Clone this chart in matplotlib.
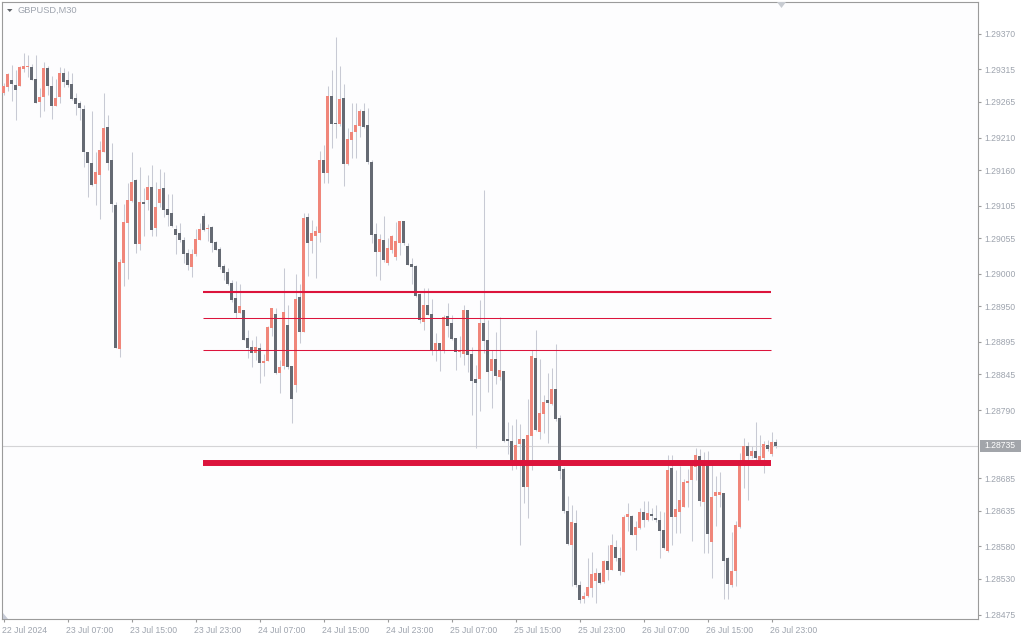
import matplotlib
matplotlib.use("Agg")
import matplotlib.pyplot as plt
import matplotlib.patches as mpatches
import matplotlib.transforms as mtransforms
import numpy as np

# ---------------- data (GBPUSD, M30) ----------------
symbol = "GBPUSD,M30"

opens = [
    1.29279, 1.29288, 1.29299, 1.29291, 1.29290, 1.29316, 1.29319, 1.29319, 1.29300, 1.29265,
    1.29272, 1.29317, 1.29290, 1.29258, 1.29272, 1.29310, 1.29299, 1.29293, 1.29271, 1.29263,
    1.29254, 1.29187, 1.29171, 1.29138, 1.29153, 1.29188, 1.29227, 1.29175, 1.29106, 1.28884,
    1.29017, 1.29079, 1.29112, 1.29145, 1.29046, 1.29111, 1.29114, 1.29134, 1.29070, 1.29109,
    1.29133, 1.29100, 1.29094, 1.29069, 1.29063, 1.29052, 1.29032, 1.29011, 1.29031, 1.29052,
    1.29089, 1.29069, 1.29072, 1.29049, 1.29038, 1.29012, 1.29003, 1.28986, 1.28963, 1.28940,
    1.28944, 1.28901, 1.28887, 1.28878, 1.28886, 1.28863, 1.28866, 1.28917, 1.28938, 1.28847,
    1.28858, 1.28921, 1.28858, 1.28829, 1.28964, 1.28911, 1.29088, 1.29050, 1.29059, 1.29063,
    1.29175, 1.29155, 1.29274, 1.29232, 1.29231, 1.29271, 1.29170, 1.29207, 1.29219, 1.29228,
    1.29251, 1.29229, 1.29172, 1.29061, 1.29033, 1.29052, 1.29017, 1.29036, 1.29026, 1.29048,
    1.29081, 1.29043, 1.29015, 1.29012, 1.28969, 1.28926, 1.28952, 1.28938, 1.28883, 1.28893,
    1.28882, 1.28935, 1.28924, 1.28901, 1.28879, 1.28877, 1.28944, 1.28877, 1.28838, 1.28838,
    1.28924, 1.28898, 1.28850, 1.28869, 1.28841, 1.28850, 1.28745, 1.28742, 1.28712, 1.28738,
    1.28745, 1.28672, 1.28750, 1.28870, 1.28756, 1.28784, 1.28806, 1.28799, 1.28822, 1.28778,
    1.28699, 1.28634, 1.28582, 1.28616, 1.28520, 1.28499, 1.28504, 1.28516, 1.28527, 1.28539,
    1.28525, 1.28558, 1.28544, 1.28579, 1.28562, 1.28541, 1.28625, 1.28627, 1.28598, 1.28608,
    1.28633, 1.28621, 1.28630, 1.28624, 1.28621, 1.28605, 1.28573, 1.28701, 1.28625, 1.28633,
    1.28641, 1.28678, 1.28682, 1.28702, 1.28719, 1.28648, 1.28710, 1.28587, 1.28658, 1.28659,
    1.28662, 1.28562, 1.28520, 1.28542, 1.28610, 1.28709, 1.28735, 1.28719, 1.28727, 1.28713,
    1.28716, 1.28736, 1.28722, 1.28741,
]

highs = [
    1.29294, 1.29310, 1.29322, 1.29314, 1.29320, 1.29340, 1.29337, 1.29323, 1.29337, 1.29286,
    1.29326, 1.29320, 1.29305, 1.29301, 1.29318, 1.29317, 1.29312, 1.29310, 1.29278, 1.29266,
    1.29260, 1.29187, 1.29251, 1.29188, 1.29204, 1.29279, 1.29245, 1.29202, 1.29111, 1.29023,
    1.29108, 1.29140, 1.29188, 1.29146, 1.29165, 1.29132, 1.29152, 1.29168, 1.29142, 1.29162,
    1.29157, 1.29123, 1.29123, 1.29075, 1.29079, 1.29056, 1.29038, 1.29039, 1.29069, 1.29078,
    1.29093, 1.29077, 1.29073, 1.29050, 1.29042, 1.29015, 1.29009, 1.28991, 1.28989, 1.28984,
    1.28944, 1.28913, 1.28898, 1.28904, 1.28893, 1.28877, 1.28919, 1.28948, 1.28948, 1.28867,
    1.29009, 1.28952, 1.28858, 1.29000, 1.28984, 1.29093, 1.29093, 1.29083, 1.29073, 1.29189,
    1.29199, 1.29289, 1.29314, 1.29365, 1.29320, 1.29293, 1.29225, 1.29264, 1.29264, 1.29254,
    1.29263, 1.29256, 1.29175, 1.29079, 1.29061, 1.29089, 1.29055, 1.29060, 1.29080, 1.29082,
    1.29082, 1.29047, 1.29024, 1.29014, 1.28970, 1.28978, 1.28978, 1.28961, 1.28909, 1.28894,
    1.28936, 1.28955, 1.28936, 1.28901, 1.28904, 1.28952, 1.28945, 1.28888, 1.28860, 1.28960,
    1.29129, 1.28929, 1.28883, 1.28910, 1.28934, 1.28851, 1.28772, 1.28767, 1.28776, 1.28769,
    1.28746, 1.28807, 1.28883, 1.28913, 1.28869, 1.28813, 1.28847, 1.28855, 1.28892, 1.28782,
    1.28703, 1.28657, 1.28644, 1.28636, 1.28527, 1.28510, 1.28562, 1.28571, 1.28547, 1.28541,
    1.28559, 1.28582, 1.28599, 1.28590, 1.28579, 1.28628, 1.28647, 1.28628, 1.28619, 1.28639,
    1.28650, 1.28650, 1.28639, 1.28644, 1.28635, 1.28633, 1.28721, 1.28721, 1.28698, 1.28704,
    1.28684, 1.28699, 1.28710, 1.28732, 1.28730, 1.28725, 1.28727, 1.28708, 1.28688, 1.28695,
    1.28663, 1.28564, 1.28602, 1.28619, 1.28724, 1.28747, 1.28741, 1.28735, 1.28772, 1.28752,
    1.28742, 1.28744, 1.28756, 1.28745,
]

lows = [
    1.29276, 1.29281, 1.29266, 1.29237, 1.29290, 1.29311, 1.29303, 1.29298, 1.29263, 1.29241,
    1.29251, 1.29276, 1.29238, 1.29258, 1.29264, 1.29288, 1.29288, 1.29268, 1.29244, 1.29237,
    1.29164, 1.29118, 1.29136, 1.29106, 1.29084, 1.29187, 1.29160, 1.29096, 1.28885, 1.28872,
    1.28982, 1.28992, 1.29111, 1.29032, 1.29036, 1.29059, 1.29098, 1.29058, 1.29059, 1.29103,
    1.29087, 1.29074, 1.29072, 1.29031, 1.29049, 1.29017, 1.29006, 1.28995, 1.29028, 1.29052,
    1.29066, 1.29050, 1.29033, 1.29036, 1.29008, 1.28991, 1.28983, 1.28956, 1.28932, 1.28939,
    1.28898, 1.28870, 1.28856, 1.28867, 1.28832, 1.28843, 1.28865, 1.28904, 1.28846, 1.28816,
    1.28853, 1.28853, 1.28770, 1.28818, 1.28893, 1.28911, 1.28997, 1.29032, 1.28993, 1.29049,
    1.29140, 1.29140, 1.29194, 1.29209, 1.29228, 1.29136, 1.29167, 1.29179, 1.29179, 1.29211,
    1.29225, 1.29170, 1.29048, 1.28997, 1.28991, 1.29019, 1.29013, 1.29032, 1.29021, 1.29029,
    1.29044, 1.29013, 1.28984, 1.28965, 1.28924, 1.28913, 1.28936, 1.28875, 1.28866, 1.28850,
    1.28878, 1.28903, 1.28898, 1.28852, 1.28872, 1.28860, 1.28849, 1.28782, 1.28732, 1.28789,
    1.28878, 1.28818, 1.28793, 1.28830, 1.28836, 1.28741, 1.28722, 1.28698, 1.28700, 1.28582,
    1.28647, 1.28624, 1.28698, 1.28758, 1.28745, 1.28755, 1.28739, 1.28798, 1.28773, 1.28684,
    1.28632, 1.28582, 1.28519, 1.28517, 1.28493, 1.28493, 1.28502, 1.28502, 1.28493, 1.28522,
    1.28523, 1.28528, 1.28544, 1.28558, 1.28536, 1.28540, 1.28604, 1.28597, 1.28574, 1.28607,
    1.28610, 1.28619, 1.28621, 1.28618, 1.28562, 1.28576, 1.28572, 1.28582, 1.28600, 1.28601,
    1.28640, 1.28640, 1.28588, 1.28682, 1.28642, 1.28570, 1.28570, 1.28531, 1.28611, 1.28640,
    1.28499, 1.28499, 1.28518, 1.28519, 1.28609, 1.28670, 1.28651, 1.28716, 1.28712, 1.28708,
    1.28693, 1.28727, 1.28719, 1.28732,
]

closes = [
    1.29289, 1.29308, 1.29293, 1.29284, 1.29319, 1.29320, 1.29320, 1.29299, 1.29264, 1.29273,
    1.29317, 1.29290, 1.29258, 1.29271, 1.29310, 1.29296, 1.29291, 1.29270, 1.29262, 1.29256,
    1.29188, 1.29171, 1.29137, 1.29157, 1.29191, 1.29225, 1.29171, 1.29107, 1.28886, 1.29019,
    1.29080, 1.29114, 1.29142, 1.29046, 1.29111, 1.29107, 1.29134, 1.29068, 1.29103, 1.29131,
    1.29099, 1.29091, 1.29073, 1.29060, 1.29052, 1.29031, 1.29013, 1.29031, 1.29054, 1.29069,
    1.29068, 1.29071, 1.29048, 1.29037, 1.29010, 1.29002, 1.28985, 1.28960, 1.28940, 1.28950,
    1.28898, 1.28886, 1.28878, 1.28887, 1.28863, 1.28866, 1.28918, 1.28947, 1.28847, 1.28856,
    1.28941, 1.28857, 1.28807, 1.28961, 1.28911, 1.29086, 1.29048, 1.29063, 1.29066, 1.29175,
    1.29155, 1.29274, 1.29231, 1.29231, 1.29269, 1.29170, 1.29208, 1.29219, 1.29229, 1.29251,
    1.29227, 1.29172, 1.29060, 1.29034, 1.29054, 1.29022, 1.29040, 1.29058, 1.29051, 1.29081,
    1.29048, 1.29014, 1.29011, 1.28966, 1.28929, 1.28952, 1.28937, 1.28883, 1.28893, 1.28882,
    1.28934, 1.28920, 1.28900, 1.28880, 1.28879, 1.28944, 1.28875, 1.28835, 1.28832, 1.28924,
    1.28896, 1.28849, 1.28869, 1.28843, 1.28852, 1.28742, 1.28742, 1.28712, 1.28736, 1.28745,
    1.28672, 1.28752, 1.28873, 1.28759, 1.28786, 1.28802, 1.28801, 1.28822, 1.28776, 1.28696,
    1.28634, 1.28584, 1.28618, 1.28520, 1.28497, 1.28504, 1.28518, 1.28537, 1.28539, 1.28524,
    1.28558, 1.28544, 1.28582, 1.28562, 1.28542, 1.28625, 1.28630, 1.28598, 1.28610, 1.28633,
    1.28621, 1.28631, 1.28627, 1.28621, 1.28604, 1.28578, 1.28698, 1.28625, 1.28638, 1.28651,
    1.28679, 1.28681, 1.28707, 1.28721, 1.28650, 1.28712, 1.28599, 1.28656, 1.28664, 1.28664,
    1.28558, 1.28522, 1.28542, 1.28613, 1.28712, 1.28735, 1.28719, 1.28727, 1.28716, 1.28719,
    1.28738, 1.28730, 1.28741, 1.28735,
]

time_labels = ["22 Jul 2024", "23 Jul 07:00", "23 Jul 15:00", "23 Jul 23:00",
               "24 Jul 07:00", "24 Jul 15:00", "24 Jul 23:00", "25 Jul 07:00",
               "25 Jul 15:00", "25 Jul 23:00", "26 Jul 07:00", "26 Jul 15:00",
               "26 Jul 23:00"]
label_bars = [0, 16, 32, 48, 64, 80, 96, 112, 128, 144, 160, 176, 192]

price_ticks = [1.29370, 1.29315, 1.29265, 1.29210, 1.29160, 1.29105, 1.29055,
               1.29000, 1.28950, 1.28895, 1.28845, 1.28790, 1.28685, 1.28635,
               1.28580, 1.28530, 1.28475]

current_price = 1.28735

level_prices = [1.28972, 1.28932, 1.28882, 1.28709]
level_start_bar = 50
level_end_bar = 192

# ---------------- styling ----------------
W, H = 1024, 640
BULL = "#f0867a"
BEAR = "#656a73"
WICK = "#c8cad4"
RED = "#dc143c"
TXT = "#9ea4ae"
FRAME = "#9b9b9b"
level_widths = [1.5, 0.75, 0.75, 4.3]

fig = plt.figure(figsize=(W / 100, H / 100), dpi=100)
fig.patch.set_facecolor("white")

ax_l, ax_r, ax_t, ax_b = 2, 978, 2, 619
ax = fig.add_axes([ax_l / W, 1 - ax_b / H, (ax_r - ax_l) / W, (ax_b - ax_t) / H])
ax.set_facecolor("#fdfdfe")

n = len(opens)
x = np.arange(n)
o = np.array(opens); h = np.array(highs); l = np.array(lows); c = np.array(closes)

bar_px = 4.0
xmin = -0.375
xmax = xmin + (ax_r - ax_l) / bar_px
ax.set_xlim(xmin, xmax)
ymax, ymin = 1.294189, 1.284681
ax.set_ylim(ymin, ymax)
px = (ymax - ymin) / (ax_b - ax_t)

# wicks
ax.vlines(x, l, h, color=WICK, lw=0.75, zorder=2)
# bodies
bull = c >= o
bottoms = np.minimum(o, c)
heights = np.maximum(np.abs(c - o), 1.0 * px)
colors = np.where(bull, BULL, BEAR)
ax.bar(x, heights, bottom=bottoms, width=0.75, color=colors, linewidth=0, zorder=3)

# current price line
ax.axhline(current_price, color="#d4d4d6", lw=0.8, zorder=1)

# red levels
for price, lw in zip(level_prices, level_widths):
    ax.hlines(price, level_start_bar - 0.1, level_end_bar - 0.2, color=RED, lw=lw,
              zorder=4, capstyle="butt")

# axes styling
for s in ax.spines.values():
    s.set_color(FRAME)
    s.set_linewidth(0.8)

ax.yaxis.tick_right()
ax.set_yticks(price_ticks)
ax.set_yticklabels([f"{p:.5f}" for p in price_ticks])
ax.tick_params(axis="y", right=True, left=False, length=2.3, width=0.8, color=FRAME,
               labelcolor=TXT, labelsize=6.2, pad=2)
ax.set_xticks(label_bars)
ax.set_xticklabels(time_labels, ha="left")
ax.tick_params(axis="x", length=2.3, width=0.8, color=FRAME, labelcolor=TXT,
               labelsize=6.2, pad=2.5)
for lab in ax.get_xticklabels() + ax.get_yticklabels():
    lab.set_fontfamily("Liberation Sans")
for lab in ax.get_xticklabels():
    lab.set_transform(lab.get_transform() + mtransforms.ScaledTranslation(-1 / 100, 0, fig.dpi_scale_trans))

# current price tag on the right
blend = mtransforms.blended_transform_factory(ax.transAxes, ax.transData)
aw = ax_r - ax_l
tag = mpatches.Rectangle((1 + 2 / aw, current_price - 6 * px), 41 / aw, 12 * px,
                         transform=blend, facecolor="#a2a5aa", edgecolor="none",
                         clip_on=False, zorder=10)
ax.add_patch(tag)
ax.text(1 + 6 / aw, current_price, f"{current_price:.5f}", transform=blend,
        color="white", fontsize=6.2, family="Liberation Sans", va="center",
        ha="left", clip_on=False, zorder=11)

# title with small triangle
fig.text(18 / W, 1 - 10.5 / H, symbol, color=TXT, fontsize=6.7,
         family="Liberation Sans", va="center", ha="left")
tri = mpatches.Polygon([(7 / W, 1 - 9 / H), (12.5 / W, 1 - 9 / H), (9.75 / W, 1 - 12 / H)],
                       closed=True, transform=fig.transFigure, facecolor="#5f6368",
                       edgecolor="none")
fig.add_artist(tri)
# chart shift marker at top
shift = mpatches.Polygon([(777 / W, 1 - 2 / H), (786 / W, 1 - 2 / H), (781.5 / W, 1 - 8 / H)],
                         closed=True, transform=fig.transFigure, facecolor="#c8ccd2",
                         edgecolor="none")
fig.add_artist(shift)
corner = mpatches.Polygon([(3 / W, 1 - 619 / H), (3 / W, 1 - 613 / H), (8 / W, 1 - 619 / H)],
                          closed=True, transform=fig.transFigure, facecolor="#c6cad6",
                          edgecolor="none")
fig.add_artist(corner)

fig.savefig("out.png", dpi=100, facecolor="white")
